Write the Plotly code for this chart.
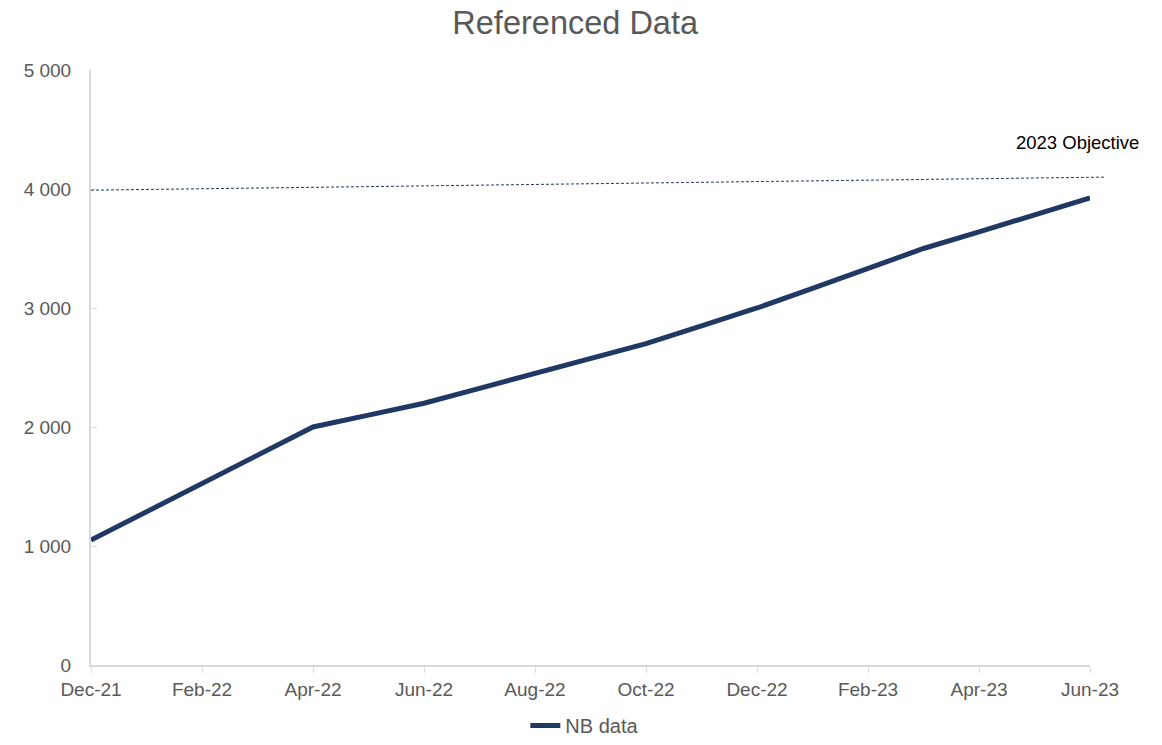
import plotly.graph_objects as go

months = ["Dec-21", "Jan-22", "Feb-22", "Mar-22", "Apr-22", "May-22", "Jun-22",
          "Jul-22", "Aug-22", "Sep-22", "Oct-22", "Nov-22", "Dec-22",
          "Jan-23", "Feb-23", "Mar-23", "Apr-23", "May-23", "Jun-23"]
nb_values = [1050, 1290, 1525, 1760, 2000, 2100, 2200, 2325, 2450, 2575, 2700,
             2850, 3000, 3165, 3335, 3500, 3640, 3780, 3925]
objective_x = [0, 18.27]
objective_values = [3990, 4100]
objective_label = "2023 Objective"
tick_labels = months[::2]

x_idx = list(range(len(months)))
FONT = "Liberation Sans, Arial, sans-serif"
GREY = "#595959"
NAVY = "#1f3864"

# full drawing width; category axis ends a little before the objective line end
x_main_end = 18
x_full_end = 18.27
main_frac = x_main_end / x_full_end

fig = go.Figure()
fig.add_trace(go.Scatter(x=objective_x, y=objective_values, mode="lines",
                         xaxis="x2", yaxis="y",
                         line=dict(color=NAVY, width=1, dash="3px,2px"),
                         showlegend=False, hoverinfo="skip"))
fig.add_trace(go.Scatter(x=x_idx, y=nb_values, mode="lines", name="NB data",
                         xaxis="x", yaxis="y",
                         line=dict(color=NAVY, width=5)))

fig.add_annotation(x=17.77, y=objective_values[-1], xref="x2", yref="y",
                   text=objective_label, showarrow=False,
                   xanchor="center", yanchor="middle", yshift=35,
                   font=dict(family=FONT, size=18.5, color="#000000"))

fig.update_layout(
    width=1162, height=745,
    margin=dict(l=91, r=57, t=70, b=80, autoexpand=False),
    paper_bgcolor="white", plot_bgcolor="rgba(0,0,0,0)",
    separators=". ",
    title=dict(text="Referenced Data", x=0.495, xanchor="center", y=1 - 23 / 745,
               yanchor="middle", font=dict(family=FONT, size=32.5, color=GREY)),
    font=dict(family=FONT, size=19, color=GREY),
    showlegend=True,
    legend=dict(orientation="h", x=0.487, xanchor="center", yref="container",
                y=0.0, yanchor="bottom",
                font=dict(family=FONT, size=20, color=GREY)),
    xaxis=dict(domain=[0, main_frac], range=[0, x_main_end], anchor="y",
               tickvals=x_idx[::2], ticktext=tick_labels,
               showgrid=False, zeroline=False, showline=True, linecolor="#d9d9d9",
               linewidth=2, ticks="outside", ticklen=6, tickcolor="#d9d9d9",
               automargin=False,
               tickfont=dict(family=FONT, size=19, color=GREY)),
    xaxis2=dict(domain=[0, 1], range=[0, x_full_end], anchor="y", visible=False,
                showgrid=False, zeroline=False),
    yaxis=dict(range=[0, 5000], dtick=1000, tickformat=",d", anchor="x",
               showgrid=False, zeroline=False, showline=True, linecolor="#d9d9d9",
               linewidth=2, ticks="inside", ticklen=6, tickcolor="#d9d9d9",
               automargin=False, ticklabelstandoff=14,
               tickfont=dict(family=FONT, size=19, color=GREY)),
)

fig.write_html("out.html", config={"displayModeBar": False},
               post_script="document.body.style.margin='0';")
